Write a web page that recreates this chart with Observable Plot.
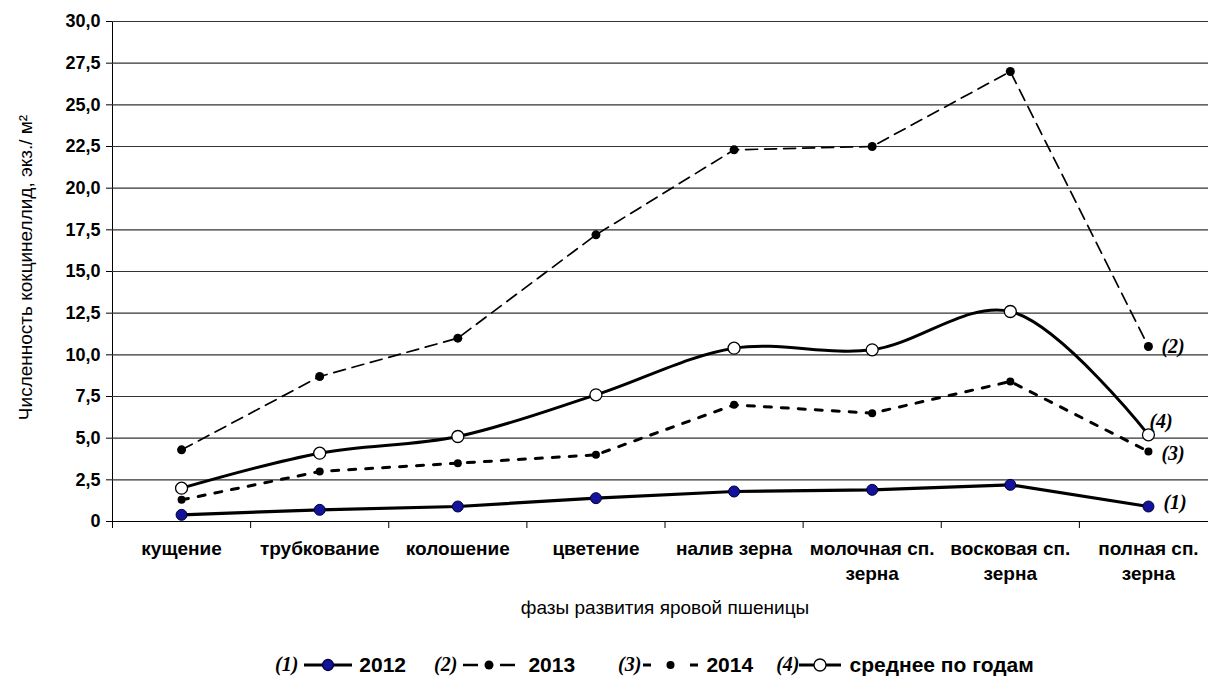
<!DOCTYPE html>
<html>
<head>
<meta charset="utf-8">
<script src="https://cdn.jsdelivr.net/npm/d3@7"></script>
<script src="https://cdn.jsdelivr.net/npm/@observablehq/plot@0.6"></script>
<style>
  html, body { margin: 0; padding: 0; background: #fff; }
  #chart { width: 1208px; height: 684px; overflow: hidden; }
  #legend { height: 44px; box-sizing: border-box; padding-top: 5px; display: flex; align-items: center; padding-left: 275px;
            font-family: "Liberation Sans", Arial, sans-serif; font-weight: bold; font-size: 21px; color: #000; }
  #legend .tag { font-family: "Liberation Serif", "Times New Roman", serif; font-style: italic; font-size: 20px; font-weight: bold; }
  #legend .item { display: flex; align-items: center; }
  #legend svg { display: block; }
</style>
</head>
<body>
<div id="chart"></div>
<script>
// ---- data ----
const phases = ["кущение", "трубкование", "колошение", "цветение", "налив зерна",
                "молочная сп.\nзерна", "восковая сп.\nзерна", "полная сп.\nзерна"];
const y2012 = [0.4, 0.7, 0.9, 1.4, 1.8, 1.9, 2.2, 0.9];
const y2013 = [4.3, 8.7, 11.0, 17.2, 22.3, 22.5, 27.0, 10.5];
const y2014 = [1.3, 3.0, 3.5, 4.0, 7.0, 6.5, 8.4, 4.2];
const yMean = [2.0, 4.1, 5.1, 7.6, 10.4, 10.3, 12.6, 5.2];
const yTicks = [0, 2.5, 5, 7.5, 10, 12.5, 15, 17.5, 20, 22.5, 25, 27.5, 30];
const seriesTags = ["(1)", "(2)", "(3)", "(4)"];
const legendNames = ["2012", "2013", "2014", "среднее по годам"];
const yTitle = "Численность кокцинеллид, экз./ м²";
const xTitle = "фазы развития яровой пшеницы";

const idx = phases.map((_, i) => i);
const last = phases.length - 1;
const boundaries = d3.range(-0.5, phases.length, 1);

const fmt = d => d === 0 ? "0" : d.toFixed(1).replace(".", ",");
const tagFont = {fontFamily: "'Liberation Serif', 'Times New Roman', serif", fontStyle: "italic", fontWeight: "bold", fontSize: 20, textAnchor: "start"};

const plot = Plot.plot({
  width: 1208,
  height: 640,
  marginLeft: 112,
  marginRight: -9,
  marginTop: 21,
  marginBottom: 119,
  style: {fontFamily: "'Liberation Sans', Arial, sans-serif", fontSize: "18px", fontWeight: "bold", color: "#000", background: "#fff", overflow: "hidden"},
  x: {type: "linear", domain: [-0.5, phases.length - 0.5], ticks: boundaries, tickFormat: () => "", tickSize: 7, line: true, label: null},
  y: {domain: [0, 30], ticks: yTicks, tickFormat: fmt, tickSize: 6, tickPadding: 6, line: true, label: null},
  marks: [
    Plot.ruleY(yTicks.slice(1), {stroke: "#333", strokeWidth: 1.2}),
    // 2013 dashed
    Plot.line(idx, {x: i => i, y: i => y2013[i], stroke: "#000", strokeWidth: 1.7, strokeDasharray: "12,7"}),
    // 2014 short dashes
    Plot.line(idx, {x: i => i, y: i => y2014[i], stroke: "#000", strokeWidth: 3, strokeDasharray: "7,10"}),
    // mean smooth
    Plot.line(idx, {x: i => i, y: i => yMean[i], stroke: "#000", strokeWidth: 3, curve: "catmull-rom"}),
    // 2012 solid
    Plot.line(idx, {x: i => i, y: i => y2012[i], stroke: "#000", strokeWidth: 3.2}),
    Plot.dot(idx, {x: i => i, y: i => y2013[i], r: 4.5, fill: "#000", stroke: "none"}),
    Plot.dot(idx, {x: i => i, y: i => y2014[i], r: 4, fill: "#000", stroke: "none"}),
    Plot.dot(idx, {x: i => i, y: i => yMean[i], r: 6, fill: "#fff", stroke: "#000", strokeWidth: 1.3}),
    Plot.dot(idx, {x: i => i, y: i => y2012[i], r: 5.5, fill: "#12129a", stroke: "#000033", strokeWidth: 1}),
    // series tags at right
    Plot.text([last], {x: i => i, y: i => y2012[i], text: () => seriesTags[0], dx: 15, dy: -4, ...tagFont}),
    Plot.text([last], {x: i => i, y: i => y2013[i], text: () => seriesTags[1], dx: 13, dy: 0, ...tagFont}),
    Plot.text([last], {x: i => i, y: i => y2014[i], text: () => seriesTags[2], dx: 13, dy: 2, ...tagFont}),
    Plot.text([last], {x: i => i, y: i => yMean[i], text: () => seriesTags[3], dx: 1, dy: -13, ...tagFont}),
    // category labels
    Plot.text(idx, {x: i => i, text: i => phases[i], frameAnchor: "bottom", lineAnchor: "top", dy: 16, lineHeight: 1.3, fontSize: 19, fontWeight: "bold"}),
    // axis titles
    Plot.text([xTitle], {text: d => d, frameAnchor: "bottom", textAnchor: "middle", dy: 92, dx: 0, fontSize: 19, fontWeight: "normal"}),
    Plot.text([yTitle], {text: d => d, frameAnchor: "left", textAnchor: "middle", rotate: -90, dx: -87, dy: -4, fontSize: 19, fontWeight: "normal"})
  ]
});
document.getElementById("chart").appendChild(plot);

// ---- legend (HTML) ----
const legendStyles = [
  {dash: null, width: 3.2, r: 5.5, fill: "#12129a", stroke: "#000033", w: 48, pre: 6, post: 7, gap: 28},
  {dash: "15,22,15", width: 2.5, r: 4.5, fill: "#000", stroke: "none", w: 52, pre: 6, post: 13, gap: 43},
  {dash: "8,39,8", width: 3, r: 4, fill: "#000", stroke: "none", w: 55, pre: 2, post: 8, gap: 23},
  {dash: null, width: 3, r: 6, fill: "#fff", stroke: "#000", w: 42, pre: 0, post: 8, gap: 0}
];
const legend = document.createElement("div");
legend.id = "legend";
seriesTags.forEach((tag, k) => {
  const s = legendStyles[k];
  const item = document.createElement("div");
  item.className = "item";
  item.style.marginRight = s.gap + "px";
  const t = document.createElement("span");
  t.className = "tag";
  t.textContent = tag;
  item.appendChild(t);
  const svg = d3.create("svg").attr("width", s.w).attr("height", 20)
    .style("margin-left", s.pre + "px").style("margin-right", s.post + "px");
  svg.append("line").attr("x1", 0).attr("x2", s.w).attr("y1", 10).attr("y2", 10)
    .attr("stroke", "#000").attr("stroke-width", s.width).attr("stroke-dasharray", s.dash);
  svg.append("circle").attr("cx", s.w / 2).attr("cy", 10).attr("r", s.r)
    .attr("fill", s.fill).attr("stroke", s.stroke).attr("stroke-width", 1.3);
  item.appendChild(svg.node());
  const n = document.createElement("span");
  n.textContent = legendNames[k];
  item.appendChild(n);
  legend.appendChild(item);
});
document.getElementById("chart").appendChild(legend);
</script>
</body>
</html>
